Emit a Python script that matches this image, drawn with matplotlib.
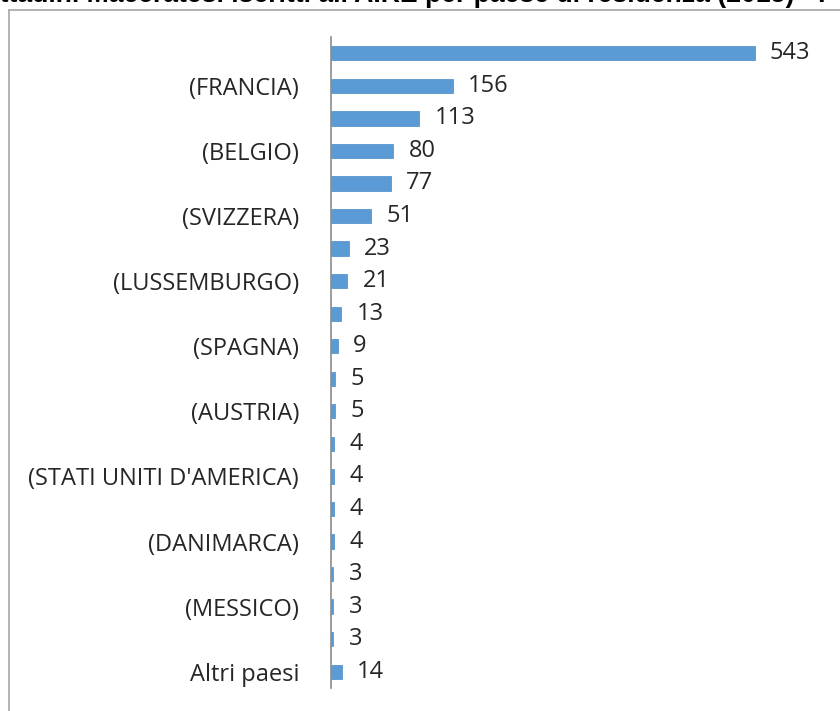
import numpy as np
import matplotlib
matplotlib.use("Agg")
import matplotlib.pyplot as plt
from matplotlib.lines import Line2D

# paesi (le etichette vuote sono quelle che Excel salta)
paesi = ["", "(FRANCIA)", "", "(BELGIO)", "", "(SVIZZERA)", "", "(LUSSEMBURGO)",
         "", "(SPAGNA)", "", "(AUSTRIA)", "", "(STATI UNITI D'AMERICA)", "",
         "(DANIMARCA)", "", "(MESSICO)", "", "Altri paesi"]
iscritti = [543, 156, 113, 80, 77, 51, 23, 21, 13, 9, 5, 5, 4, 4, 4, 4, 3, 3, 3, 14]
titolo = "Cittadini Maceratesi iscritti all'AIRE per paese di residenza (2015) - I"

W, H = 840, 711
fig = plt.figure(figsize=(W / 100, H / 100), dpi=100)
fig.patch.set_facecolor("white")

# titolo tagliato in alto
fig.text(-27 / W, 1 - 2 / H, titolo, fontsize=19.2, fontweight="bold",
         family="Liberation Sans", va="baseline", ha="left", color="black")

# bordo dell'area del grafico
fig.add_artist(Line2D([9 / W, 9 / W], [0, 1 - 10 / H], transform=fig.transFigure,
                      color="#a6a6a6", lw=1.2))
fig.add_artist(Line2D([9 / W, 1], [1 - 10 / H, 1 - 10 / H], transform=fig.transFigure,
                      color="#a6a6a6", lw=1.2))

ax = fig.add_axes([331 / W, 1 - 688 / H, (799 - 331) / W, (688 - 37) / H])
y = np.arange(len(iscritti))
bars = ax.barh(y, iscritti, height=0.44, color="#5B9BD5", edgecolor="#4a8bc9", lw=0.5)
ax.set_ylim(len(iscritti) - 0.5, -0.5)
ax.set_xlim(0, 600)

ax.set_yticks(y, labels=paesi, fontsize=17, family="Open Sans", color="#262626")
ax.tick_params(axis="y", length=0, pad=23)
ax.set_xticks([])
for s in ["top", "right", "bottom"]:
    ax.spines[s].set_visible(False)
ax.spines["left"].set_color("#8c8c8c")
ax.spines["left"].set_linewidth(1.2)

ax.bar_label(bars, padding=11, fontsize=17, family="Open Sans", color="#262626")

fig.savefig("out.png", dpi=100)
